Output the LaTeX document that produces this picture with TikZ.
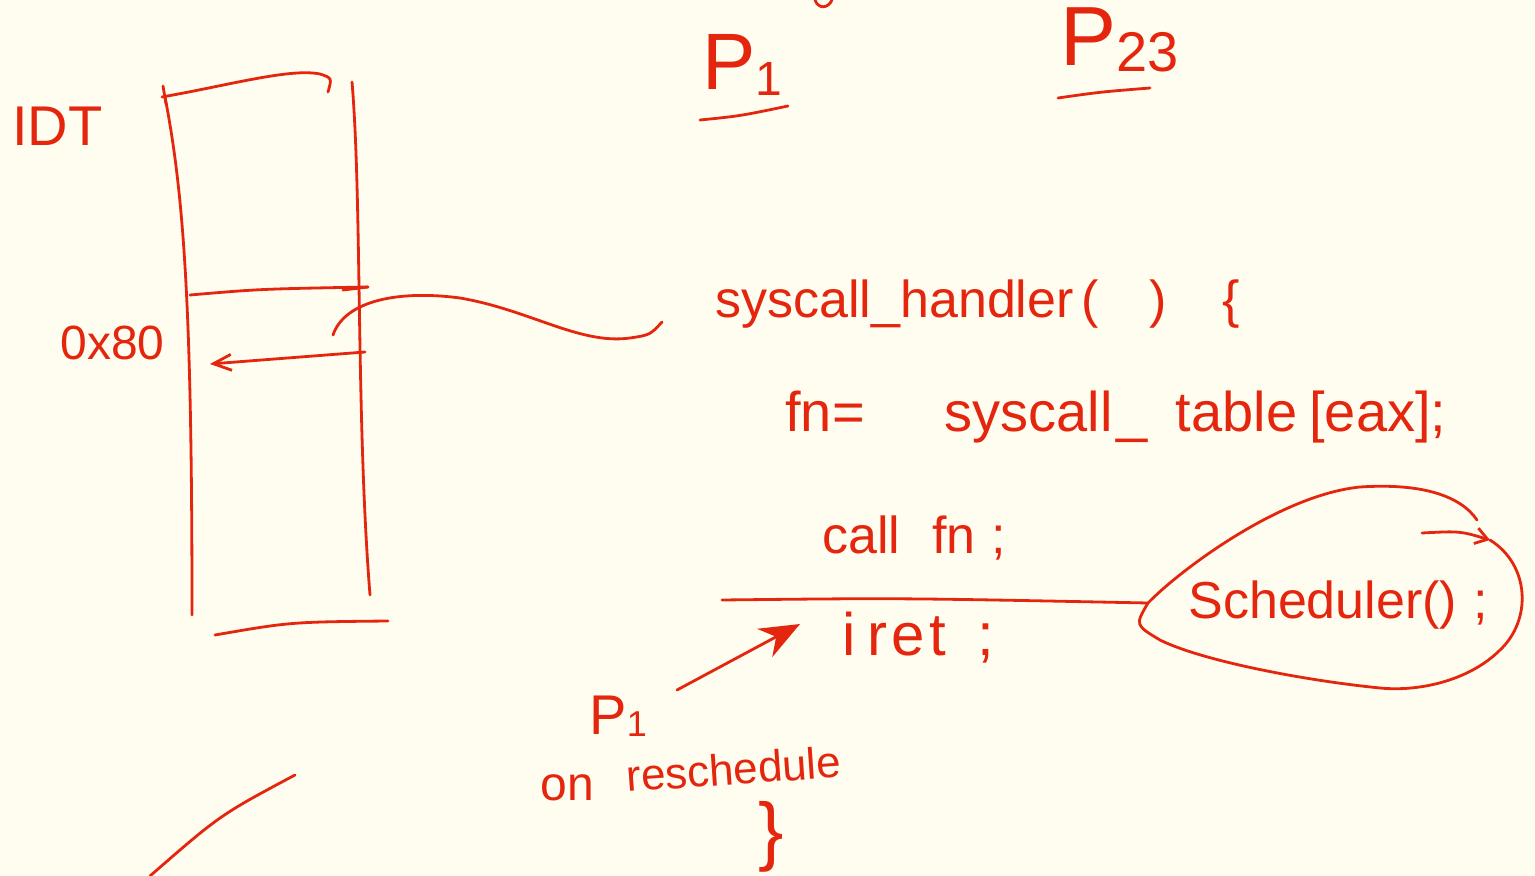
\documentclass[tikz,border=0pt]{standalone}
\usepackage{fontspec}
\setmainfont{Liberation Sans}
\usetikzlibrary{arrows.meta}
\definecolor{ink}{RGB}{228,38,14}
\definecolor{paper}{RGB}{255,253,240}
\begin{document}
\begin{tikzpicture}[x=0.5pt,y=-0.5pt,
  pen/.style={draw=ink,line width=1.4pt,line cap=round,line join=round},
  hand/.style={text=ink,inner sep=0pt,anchor=base west,font=\fontsize{28}{32}\selectfont}]
\fill[paper] (0,0) rectangle (1535,876);
\useasboundingbox (0,0) rectangle (1535,876);

% ---- IDT table ----
\node[hand,font=\fontsize{28}{32}\selectfont] (idt) at (12,146) {IDT};
\node[hand,font=\fontsize{24}{28}\selectfont] (hex) at (60,360) {0x80};
\draw[pen] (163,86) -- (166,104);
\draw[pen] (162,97) .. controls (230,85) and (290,68) .. (320,74) .. controls (332,78) .. (328,92);
\draw[pen] (165,97) .. controls (185,200) and (192,320) .. (192,615);
\draw[pen] (352,82) .. controls (362,200) and (356,420) .. (370,595);
\draw[pen] (190,295) .. controls (260,289) .. (368,287);
\draw[pen] (343,290) -- (368,287);
\coordinate (rowR) at (365,352);
\coordinate (rowL) at (210,364);
\draw[pen,-{Straight Barb[length=9pt,width=8pt]}] (rowR) -- (rowL);
\draw[pen] (215,635) .. controls (290,622) .. (388,621);

% ---- wave connector ----
\coordinate (entry) at (333,335);
\coordinate (wend) at (662,322);
\draw[pen] (entry) .. controls (345,300) and (400,290) .. (460,298)
  .. controls (530,310) and (580,345) .. (630,338) .. controls (650,335) .. (wend);

% ---- processes ----
\node[hand,font=\fontsize{40}{44}\selectfont] (p1) at (702,90) {P\raisebox{-3pt}{\fontsize{24}{24}\selectfont 1}};
\draw[pen] (700,120) .. controls (740,116) .. (788,106);
\node[hand,font=\fontsize{42}{46}\selectfont] (p23) at (1060,66) {P\raisebox{-3pt}{\fontsize{28}{28}\selectfont 23}};
\draw[pen] (1058,98) .. controls (1100,92) .. (1150,88);

% ---- code ----
\node[hand,font=\fontsize{26}{30}\selectfont] (handler) at (715,318) {syscall\_handler\hspace{4pt}(\hspace{25pt})\hspace{28pt}\{};
\node[hand] (fn) at (785,432) {fn=\hspace{40pt}syscall\hspace{2pt}\_\hspace{14pt}table\hspace{6pt}[eax];};
\node[hand,font=\fontsize{26}{30}\selectfont] (call) at (822,553) {call\hspace{16pt}fn\hspace{8pt};};
\node[hand,font=\fontsize{26}{30}\selectfont] (sched) at (1188,618) {Scheduler()\hspace{8pt};};
\node[hand,font=\fontsize{30}{34}\selectfont] (iret) at (842,655) {i\hspace{6pt}r\hspace{2pt}e\hspace{2pt}t\hspace{16pt};};

% ---- scheduler loop ----
\coordinate (lineL) at (722,600);
\coordinate (loopL) at (1148,603);
\coordinate (loopEnd) at (1477,520);
\coordinate (arrS) at (1422,533);
\coordinate (arrE) at (1490,540);
\draw[pen] (lineL) .. controls (900,598) .. (loopL);
\draw[pen] (loopL) .. controls (1180,570) and (1280,495) .. (1360,487) .. controls (1420,483) and (1460,495) .. (loopEnd);
\draw[pen,-{Straight Barb[length=6pt,width=8pt]}] (arrS) .. controls (1460,531) .. (arrE);
\draw[pen] (arrE) .. controls (1530,565) and (1532,620) .. (1500,650)
  .. controls (1470,680) and (1420,692) .. (1380,688)
  .. controls (1300,680) and (1200,660) .. (1160,640)
  .. controls (1135,625) .. (loopL);

% ---- P1 on reschedule ----
\node[hand,font=\fontsize{28}{32}\selectfont] (p1b) at (589,734) {P\raisebox{-1pt}{\fontsize{18}{18}\selectfont 1}};
\node[hand,font=\fontsize{24}{28}\selectfont] (on) at (540,800) {on};
\node[hand,font=\fontsize{22}{26}\selectfont,rotate=4] (resch) at (627,792) {reschedule};
\node[hand,font=\fontsize{38}{40}\selectfont] (close) at (758,856) {\}};
\coordinate (ptail) at (677,690);
\coordinate (phead) at (800,624);
\draw[pen,-{Stealth[length=20pt,width=16pt]}] (ptail) -- (phead);

% ---- stray strokes ----
\coordinate (s1) at (150,876);
\coordinate (s2) at (295,775);
\draw[pen] (s1) .. controls (220,815) .. (s2);
\coordinate (t1) at (815,0);
\coordinate (t2) at (832,0);
\draw[pen] (t1) .. controls (818,9) and (828,9) .. (t2);
\end{tikzpicture}
\end{document}
